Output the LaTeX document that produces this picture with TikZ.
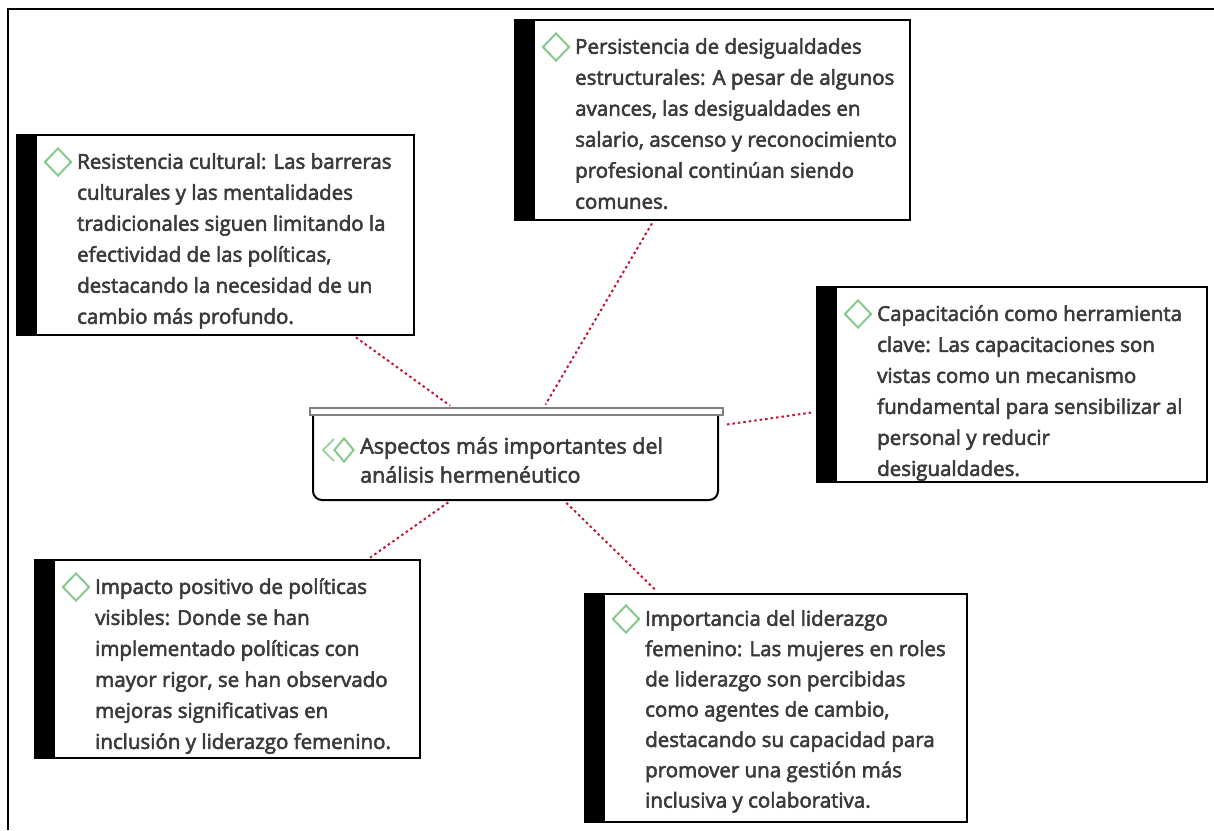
\documentclass[tikz,border=0pt]{standalone}
\usepackage{fontspec}
\setmainfont{Open Sans}
\newcommand\heavyink{\special{pdf:literal direct 2 Tr 0.55 w}}
\usetikzlibrary{shapes.geometric, positioning, calc}
\definecolor{mapInk}{RGB}{58,58,58}
\definecolor{mapGreen}{RGB}{134,201,138}
\definecolor{mapRed}{RGB}{196,22,52}
\definecolor{mapLid}{RGB}{128,128,128}
\tikzset{
    mindmap/.style={x=1pt, y=-1pt, line join=miter},
    card/.style={draw=black, line width=2pt, fill=white, anchor=north west,
                 outer sep=0pt, inner sep=0pt,
                 path picture={\fill[black] (path picture bounding box.north west)
                     rectangle ([xshift=20pt]path picture bounding box.south west);}},
    cardtext/.style={anchor=north west, align=left, inner sep=0pt, text=mapInk,
                     font=\fontsize{20.5}{31}\selectfont\heavyink},
    gem/.style={diamond, draw=mapGreen, line width=2pt, minimum width=27pt,
                minimum height=28pt, inner sep=0pt},
    lid/.style={draw=mapLid, line width=2pt, fill=white},
    link/.style={draw=mapRed, line width=2pt, dash pattern=on 2.5pt off 3pt,
                 shorten <=4pt, shorten >=4pt},
    frame/.style={draw=black, line width=2pt},
}

\begin{document}
\begin{tikzpicture}[mindmap]
\useasboundingbox (0,0) rectangle (1214,830);
\draw[frame] (8,830) -- (8,9) -- (1214,9);

% --- central node ---
\node[anchor=north west, minimum width=413pt, minimum height=92pt, inner sep=0pt,
      outer sep=0pt] (aspectos) at (310,408) {};
\draw[line width=2pt, rounded corners=9pt]
    ([xshift=3pt, yshift=-7pt]aspectos.north west) -- ([xshift=3pt]aspectos.south west)
    -- ([xshift=-5pt]aspectos.south east) -- ([xshift=-5pt, yshift=-7pt]aspectos.north east);
\draw[lid] (aspectos.north west) rectangle ([yshift=-7pt]aspectos.north east);
\draw[draw=mapGreen!80, line width=2pt] ([xshift=24pt, yshift=-31pt]aspectos.north west)
    -- ++(-11,11) -- ++(11,11);
\node[gem, minimum width=20pt, minimum height=24pt] (aspectosGem)
    at ([xshift=34pt, yshift=-42pt]aspectos.north west) {};
\node[cardtext, font=\fontsize{21.5}{29}\selectfont\heavyink] (aspectosText)
    at ([xshift=50pt, yshift=-29pt]aspectos.north west)
    {Aspectos más importantes del\\análisis hermenéutico};

% --- cards ---
\node[card, minimum width=397pt, minimum height=200pt] (resist) at (17,135) {};
\node[gem] (resistGem) at ([xshift=41pt, yshift=-27pt]resist.north west) {};
\node[cardtext] (resistText) at ([xshift=60pt, yshift=-18pt]resist.north west)
    {Resistencia cultural: Las barreras\\culturales y las mentalidades\\
     tradicionales siguen limitando la\\efectividad de las políticas,\\
     destacando la necesidad de un\\cambio más profundo.};

\node[card, minimum width=395pt, minimum height=200pt] (persist) at (515,20) {};
\node[gem] (persistGem) at ([xshift=41pt, yshift=-27pt]persist.north west) {};
\node[cardtext] (persistText) at ([xshift=60pt, yshift=-18pt]persist.north west)
    {Persistencia de desigualdades\\estructurales: A pesar de algunos\\
     avances, las desigualdades en\\salario, ascenso y reconocimiento\\
     profesional continúan siendo\\comunes.};

\node[card, minimum width=390pt, minimum height=195pt] (capac) at (817,287) {};
\node[gem] (capacGem) at ([xshift=41pt, yshift=-27pt]capac.north west) {};
\node[cardtext] (capacText) at ([xshift=60pt, yshift=-18pt]capac.north west)
    {Capacitación como herramienta\\clave: Las capacitaciones son\\
     vistas como un mecanismo\\fundamental para sensibilizar al\\
     personal y reducir\\desigualdades.};

\node[card, minimum width=385pt, minimum height=198pt] (impacto) at (35,560) {};
\node[gem] (impactoGem) at ([xshift=41pt, yshift=-27pt]impacto.north west) {};
\node[cardtext] (impactoText) at ([xshift=60pt, yshift=-18pt]impacto.north west)
    {Impacto positivo de políticas\\visibles: Donde se han\\
     implementado políticas con\\mayor rigor, se han observado\\
     mejoras significativas en\\inclusión y liderazgo femenino.};

\node[card, minimum width=382pt, minimum height=228pt] (lider) at (585,594) {};
\node[gem] (liderGem) at ([xshift=41pt, yshift=-25pt]lider.north west) {};
\node[cardtext, font=\fontsize{20.5}{30.3}\selectfont\heavyink] (liderText)
    at ([xshift=60pt, yshift=-16pt]lider.north west)
    {Importancia del liderazgo\\femenino: Las mujeres en roles\\
     de liderazgo son percibidas\\como agentes de cambio,\\
     destacando su capacidad para\\promover una gestión más\\
     inclusiva y colaborativa.};

% --- links ---
\draw[link] (resist)  -- (aspectos);
\draw[link] (persist) -- (aspectos);
\draw[link] (aspectos) -- (capac);
\draw[link] (aspectos) -- (impacto);
\draw[link] (aspectos) -- (lider);

\end{tikzpicture}
\end{document}
